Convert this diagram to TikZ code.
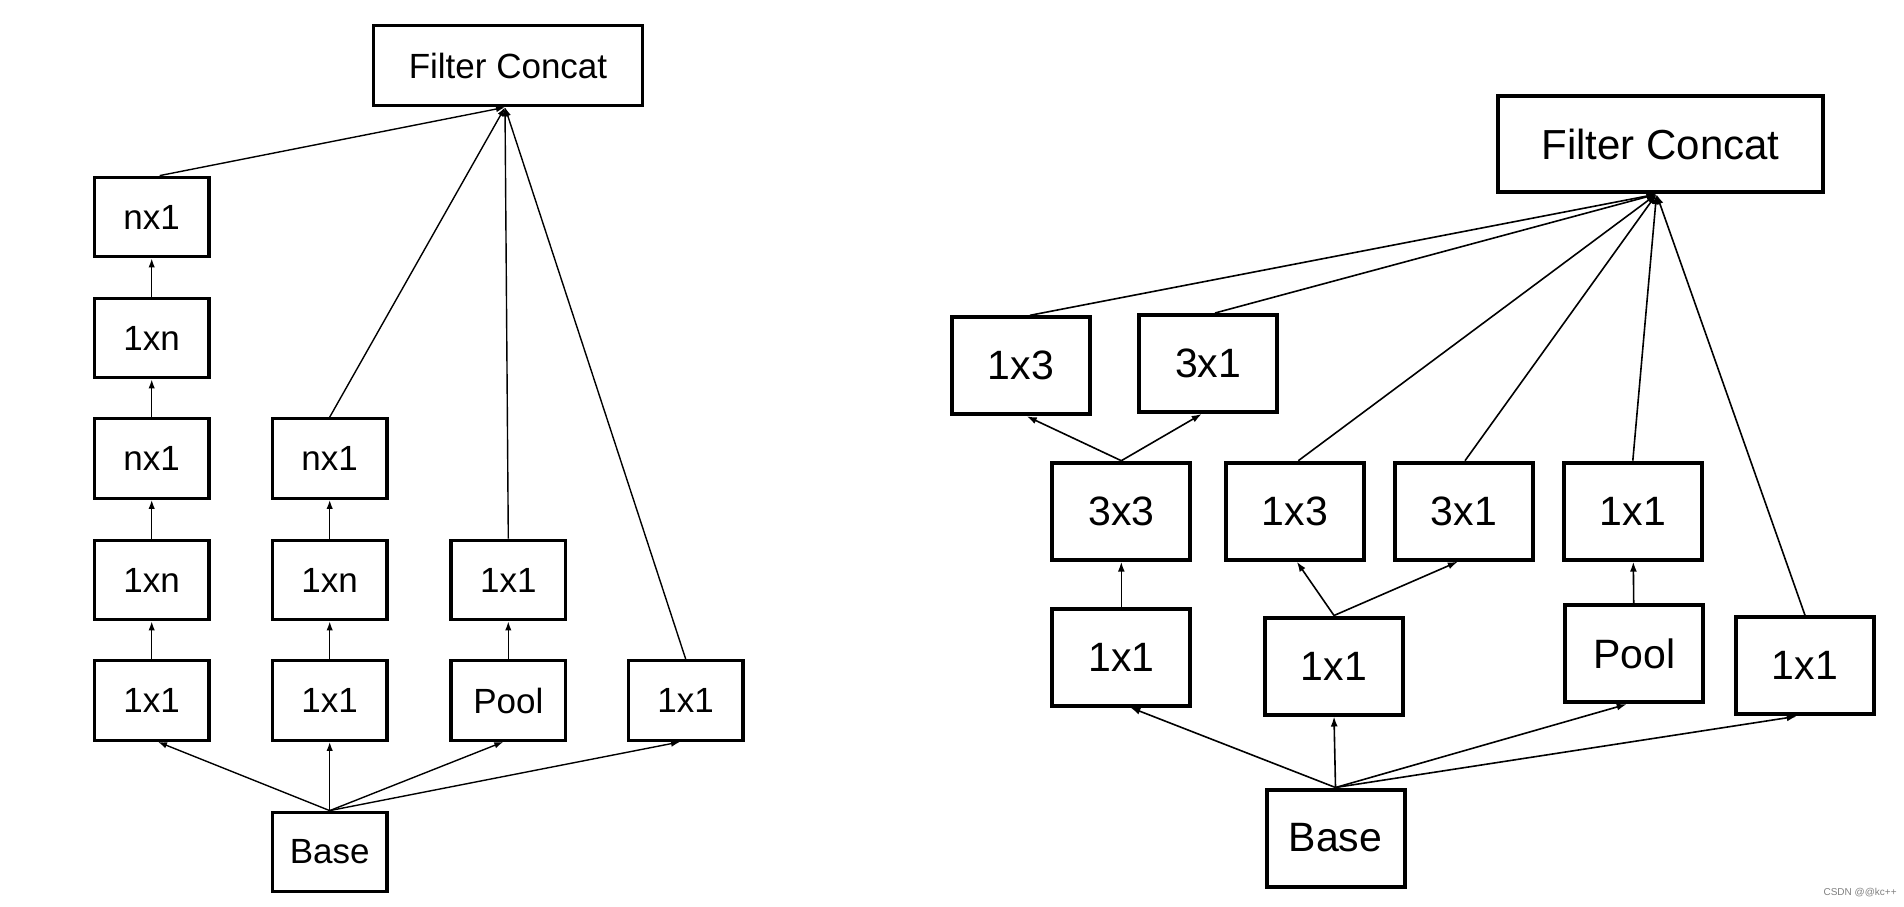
\documentclass[tikz,border=0pt]{standalone}
\usepackage{fontspec}
\setmainfont{Liberation Sans}
\usetikzlibrary{arrows.meta}
\begin{document}
\begin{tikzpicture}[x=0.5pt,y=-0.5pt,
  lbox/.style={draw,line width=1.6pt,minimum width=57.3pt,minimum height=39.8pt,inner sep=0pt,font=\fontsize{17.5}{20}\selectfont},
  rbox/.style={draw,line width=2pt,minimum width=69pt,minimum height=48.5pt,inner sep=0pt,font=\fontsize{20.5}{24}\selectfont},
  conn/.style={line width=0.7pt,-{Latex[length=4.5pt,width=3.2pt]}},
  rconn/.style={line width=0.8pt,-{Latex[length=5pt,width=3.5pt]}}]
\useasboundingbox (0,0) rectangle (1904,906);
% ---------- left diagram ----------
\node[lbox,minimum width=134.8pt,minimum height=40pt] (lfc) at (508,65.7) {Filter Concat};
\node[lbox] (a1) at (151.7,217) {nx1};
\node[lbox] (a2) at (151.7,338) {1xn};
\node[lbox] (a3) at (151.7,458.5) {nx1};
\node[lbox] (a4) at (151.7,580) {1xn};
\node[lbox] (a5) at (151.7,700.5) {1x1};
\node[lbox] (b3) at (329.7,458.5) {nx1};
\node[lbox] (b4) at (329.7,580) {1xn};
\node[lbox] (b5) at (329.7,700.5) {1x1};
\node[lbox] (c4) at (508.3,580) {1x1};
\node[lbox] (c5) at (508.3,700.5) {Pool};
\node[lbox] (d5) at (685.7,700.5) {1x1};
\node[lbox] (lbase) at (329.7,852) {Base};
\draw[conn] (a5) -- (a4);
\draw[conn] (a4) -- (a3);
\draw[conn] (a3) -- (a2);
\draw[conn] (a2) -- (a1);
\draw[conn] (b5) -- (b4);
\draw[conn] (b4) -- (b3);
\draw[conn] (c5) -- (c4);
\draw[conn] (lbase.north) -- ([xshift=3.15pt]a5.south);
\draw[conn] (lbase.north) -- (b5.south);
\draw[conn] (lbase.north) -- ([xshift=-2.5pt]c5.south);
\draw[conn] (lbase.north) -- ([xshift=-2.85pt]d5.south);
\draw[conn] ([xshift=4pt]a1.north) -- ([xshift=-1.5pt]lfc.south);
\draw[conn] (b3.north) -- ([xshift=-1.5pt]lfc.south);
\draw[conn] (c4.north) -- ([xshift=-1.5pt]lfc.south);
\draw[conn] (d5.north) -- ([xshift=-1.5pt]lfc.south);
% ---------- right diagram ----------
\node[rbox,minimum width=162.5pt,minimum height=48pt,font=\fontsize{21}{25}\selectfont] (rfc) at (1660.5,144.2) {Filter Concat};
\node[rbox] (p1) at (1020.8,365.8) {1x3};
\node[rbox] (p2) at (1208.2,363.5) {3x1};
\node[rbox] (q1) at (1121.3,511.2) {3x3};
\node[rbox] (q2) at (1294.8,511.2) {1x3};
\node[rbox] (q3) at (1463.8,511.2) {3x1};
\node[rbox] (q4) at (1632.8,511.2) {1x1};
\node[rbox] (r1) at (1121.3,657) {1x1};
\node[rbox] (r2) at (1334,666) {1x1};
\node[rbox] (r3) at (1634.2,653.7) {Pool};
\node[rbox] (r4) at (1805,665.8) {1x1};
\node[rbox] (rbase) at (1335.5,838) {Base};
\draw[rconn] (rbase.north) -- ([xshift=4.5pt]r1.south);
\draw[rconn] (rbase.north) -- (r2.south);
\draw[rconn] (rbase.north) -- ([xshift=-3.75pt]r3.south);
\draw[rconn] (rbase.north) -- ([xshift=-4.15pt]r4.south);
\draw[rconn] (r1) -- (q1);
\draw[rconn] (r2.north) -- ([xshift=1pt]q2.south);
\draw[rconn] (r2.north) -- ([xshift=-3pt]q3.south);
\draw[rconn] (r3) -- (q4);
\draw[rconn] (q1.north) -- ([xshift=3pt]p1.south);
\draw[rconn] (q1.north) -- ([xshift=-3.25pt]p2.south);
\draw[rconn] ([xshift=4.6pt]p1.north) -- ([xshift=-2pt]rfc.south);
\draw[rconn] ([xshift=3.4pt]p2.north) -- ([xshift=-2pt]rfc.south);
\draw[rconn] ([xshift=1.75pt]q2.north) -- ([xshift=-2pt]rfc.south);
\draw[rconn] ([xshift=0.6pt]q3.north) -- ([xshift=-2pt]rfc.south);
\draw[rconn] (q4.north) -- ([xshift=-2pt]rfc.south);
\draw[rconn] (r4.north) -- ([xshift=-2pt]rfc.south);
% watermark
\node[text=gray,font=\fontsize{5}{6}\selectfont,anchor=east,inner sep=0pt] (wm) at (1897,893) {CSDN @@kc++};
\end{tikzpicture}
\end{document}
